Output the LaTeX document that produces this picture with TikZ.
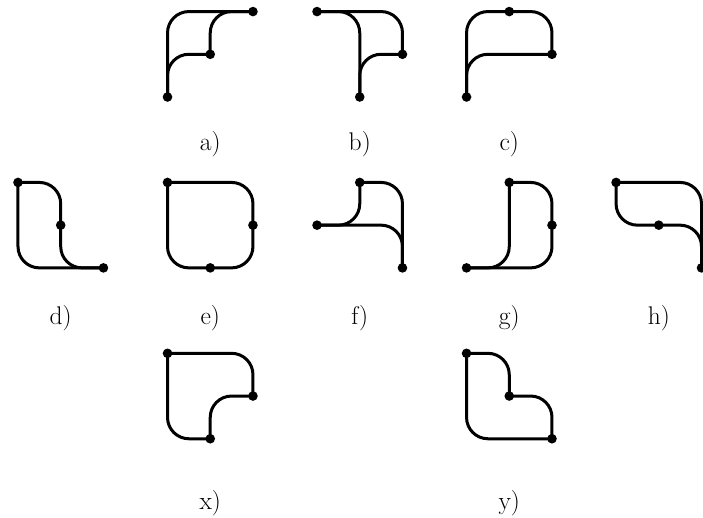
\documentclass[tikz,border=0pt]{standalone}
\usepackage{tikz}
\usetikzlibrary{calc}

\tikzset{
  link/.style={line width=2pt,rounded corners=0.5cm},
  tag/.style={font=\fontsize{17}{20}\selectfont},
}
\newcommand{\dotsat}[1]{\foreach \p in {#1} {\fill (\p) circle (3.2pt);}}

\begin{document}
\begin{tikzpicture}[x=1cm,y=1cm]
    \useasboundingbox (-0.4213,-9.855) rectangle (16.035,2.2706);
    % first row
    \begin{scope}[shift={(3.5,0)}]
      \coordinate (a1) at (0,0); \coordinate (a2) at (1,1); \coordinate (a3) at (2,2);
      \draw[link] (a1) |- (a3);
      \draw[link] (a1) |- (a2);
      \draw[link] (a2) |- (a3);
      \dotsat{a1,a2,a3}
      \node[tag] (la) at (1,-1.1) {a)};
    \end{scope}
    \begin{scope}[shift={(7,0)}]
      \coordinate (b1) at (0,2); \coordinate (b2) at (2,1); \coordinate (b3) at (1,0);
      \draw[link] (b1) -| (b2);
      \draw[link] (b1) -| (b3);
      \draw[link] (b3) |- (b2);
      \dotsat{b1,b2,b3}
      \node[tag] (lb) at (1,-1.1) {b)};
    \end{scope}
    \begin{scope}[shift={(10.5,0)}]
      \coordinate (c1) at (0,0); \coordinate (c2) at (1,2); \coordinate (c3) at (2,1);
      \draw[link] (c1) |- (c2);
      \draw[link] (c2) -| (c3);
      \draw[link] (c1) |- (c3);
      \dotsat{c1,c2,c3}
      \node[tag] (lc) at (1,-1.1) {c)};
    \end{scope}
    % second row
    \begin{scope}[shift={(0,-4)}]
      \coordinate (d1) at (0,2); \coordinate (d2) at (1,1); \coordinate (d3) at (2,0);
      \draw[link] (d1) |- (d3);
      \draw[link] (d1) -| (d2);
      \draw[link] (d2) |- (d3);
      \dotsat{d1,d2,d3}
      \node[tag] (ld) at (1,-1.17) {d)};
    \end{scope}
    \begin{scope}[shift={(3.5,-4)}]
      \coordinate (e1) at (0,2); \coordinate (e2) at (2,1); \coordinate (e3) at (1,0);
      \draw[link] (e1) -| (e2);
      \draw[link] (e1) |- (e3);
      \draw[link] (e3) -| (e2);
      \dotsat{e1,e2,e3}
      \node[tag] (le) at (1,-1.17) {e)};
    \end{scope}
    \begin{scope}[shift={(7,-4)}]
      \coordinate (f1) at (0,1); \coordinate (f2) at (1,2); \coordinate (f3) at (2,0);
      \draw[link] (f1) -| (f2);
      \draw[link] (f2) -| (f3);
      \draw[link] (f1) -| (f3);
      \dotsat{f1,f2,f3}
      \node[tag] (lf) at (1,-1.17) {f)};
    \end{scope}
    \begin{scope}[shift={(10.5,-4)}]
      \coordinate (g1) at (0,0); \coordinate (g2) at (1,2); \coordinate (g3) at (2,1);
      \draw[link] (g2) |- (g1);
      \draw[link] (g2) -| (g3);
      \draw[link] (g1) -| (g3);
      \dotsat{g1,g2,g3}
      \node[tag] (lg) at (1,-1.17) {g)};
    \end{scope}
    \begin{scope}[shift={(14,-4)}]
      \coordinate (h1) at (0,2); \coordinate (h2) at (1,1); \coordinate (h3) at (2,0);
      \draw[link] (h1) -| (h3);
      \draw[link] (h1) |- (h2);
      \draw[link] (h2) -| (h3);
      \dotsat{h1,h2,h3}
      \node[tag] (lh) at (1,-1.17) {h)};
    \end{scope}
    % third row
    \begin{scope}[shift={(3.5,-8)}]
      \coordinate (x1) at (0,2); \coordinate (x2) at (2,1); \coordinate (x3) at (1,0);
      \draw[link] (x1) -| (x2);
      \draw[link] (x1) |- (x3);
      \draw[link] (x2) -| (x3);
      \dotsat{x1,x2,x3}
      \node[tag] (lx) at (1,-1.5) {x)};
    \end{scope}
    \begin{scope}[shift={(10.5,-8)}]
      \coordinate (y1) at (0,2); \coordinate (y2) at (1,1); \coordinate (y3) at (2,0);
      \draw[link] (y1) -| (y2);
      \draw[link] (y2) -| (y3);
      \draw[link] (y1) |- (y3);
      \dotsat{y1,y2,y3}
      \node[tag] (ly) at (1,-1.5) {y)};
    \end{scope}
  \end{tikzpicture}
\end{document}
